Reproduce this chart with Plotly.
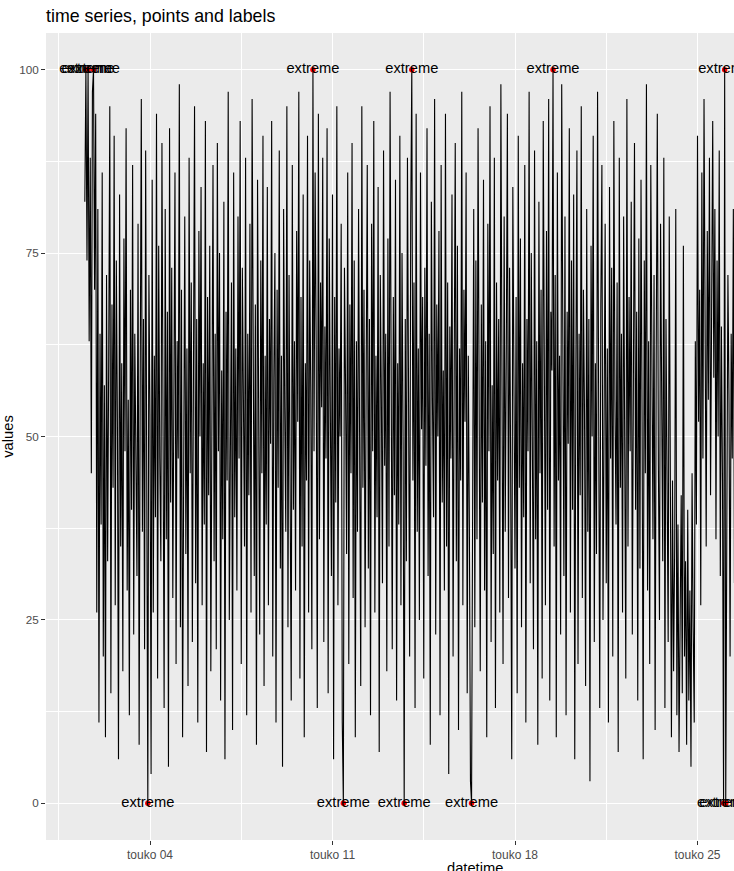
import pandas as pd
import plotly.graph_objects as go

# ---- data (hourly values) ----
start_time = "2019-05-01 12:00"
values = [
    82,100,74,100,63,88,45,97,100,70,94,26,81,11,64,38,86,20,57,9,72,33,61,95,
    15,68,43,91,27,74,52,6,83,35,60,18,77,48,92,29,55,12,70,40,87,23,64,49,
    31,79,8,58,96,37,66,21,89,44,0,72,53,4,85,26,61,39,94,17,76,47,33,90,
    58,13,81,36,67,5,92,41,73,28,56,86,19,63,47,98,24,70,9,52,80,34,62,16,
    88,45,71,22,57,95,30,66,11,78,50,84,27,60,38,93,7,69,42,76,18,55,87,33,
    64,21,90,48,75,14,59,36,82,6,67,44,97,25,53,71,10,86,39,62,29,80,47,93,
    19,73,55,35,88,12,64,42,79,26,96,50,31,68,8,85,57,23,74,45,91,16,61,38,
    84,27,66,49,93,20,58,75,11,70,43,89,32,61,5,81,54,37,95,24,72,46,14,87,
    40,63,29,78,52,97,17,69,35,83,9,60,44,91,26,74,56,21,100,48,86,62,13,94,
    36,71,54,88,22,65,47,92,15,77,58,31,83,6,69,41,95,27,62,50,79,11,0,73,
    57,34,86,19,68,45,90,28,74,9,63,37,81,52,16,95,43,70,24,58,87,32,66,12,
    79,48,93,26,61,39,84,7,72,55,30,89,46,64,18,77,35,97,53,21,69,42,85,14,
    60,38,91,27,75,49,0,66,33,88,56,20,80,100,44,71,13,94,37,62,25,86,51,69,
    17,73,46,92,31,64,8,82,55,39,96,23,68,50,78,12,87,41,59,29,94,35,71,4,
    65,47,83,20,58,90,33,76,10,62,44,97,27,70,52,86,15,61,38,3,0,57,81,24,
    74,36,92,55,18,68,41,85,29,63,9,79,48,95,22,57,34,88,13,71,44,66,26,98,
    51,19,80,37,62,94,28,73,46,6,84,58,32,69,15,91,43,77,24,60,39,87,11,66,
    48,97,30,75,54,21,89,36,63,8,82,45,70,17,93,52,27,78,40,96,14,67,59,100,
    35,72,9,86,44,61,23,98,57,31,80,12,67,49,92,26,74,40,83,6,58,89,19,64,
    42,95,28,70,53,16,81,37,66,3,76,50,91,22,60,34,97,45,13,68,87,25,56,79,
    30,62,11,84,47,73,20,93,55,38,71,7,88,43,64,26,80,51,17,96,35,69,48,82,
    23,58,90,40,67,14,77,32,85,52,6,74,45,98,29,63,19,87,54,36,72,10,61,94,
    46,25,79,57,33,88,13,66,41,22,80,30,9,44,18,35,81,12,38,7,26,42,15,76,
    20,33,8,40,14,29,5,45,24,11,63,38,91,52,70,27,86,47,96,60,35,78,55,88,
    42,67,93,58,81,36,74,50,89,31,65,44,0,100,0,38,72,55,20,64,47,81,30,
]
extreme_values = [0, 100]
label_text = "extreme"

tick_dates = ["2019-05-04", "2019-05-11", "2019-05-18", "2019-05-25"]
tick_labels = ["touko 04", "touko 11", "touko 18", "touko 25"]
minor_dates = ["2019-04-30 12:00", "2019-05-07 12:00", "2019-05-14 12:00",
               "2019-05-21 12:00", "2019-05-28 12:00"]
x_range = ["2019-04-30 00:16", "2019-05-26 09:36"]
y_ticks = [0, 25, 50, 75, 100]

df = pd.DataFrame({
    "datetime": pd.date_range(start_time, periods=len(values), freq="h"),
    "values": values,
})
ext = df[df["values"].isin(extreme_values)]

FONT = "Liberation Sans, Arial, sans-serif"

fig = go.Figure()
fig.add_trace(go.Scatter(
    x=df["datetime"], y=df["values"], mode="lines",
    line=dict(color="black", width=1.1), showlegend=False, hoverinfo="skip",
))
fig.add_trace(go.Scatter(
    x=ext["datetime"], y=ext["values"], mode="markers",
    marker=dict(color="red", size=5.5), showlegend=False,
))
fig.add_trace(go.Scatter(
    x=ext["datetime"], y=ext["values"], mode="text",
    text=[label_text] * len(ext), textposition="middle center",
    textfont=dict(family=FONT, size=14.7, color="black"),
    showlegend=False,
))

# x-axis title: the original panel is wider than the visible window, so its
# centred title sits right of the visible centre and is cut at the bottom edge
fig.add_annotation(
    text="datetime", xref="paper", yref="paper",
    x=(475 - 46) / 688, y=-(868 - 840) / 807,
    xanchor="center", yanchor="middle", showarrow=False,
    font=dict(family=FONT, size=14.7, color="black"),
)

fig.update_layout(
    width=734, height=871,
    margin=dict(l=46, r=0, t=33, b=31, autoexpand=False),
    paper_bgcolor="white", plot_bgcolor="#EBEBEB",
    font=dict(family=FONT, color="black"),
    title=dict(
        text="time series, points and labels",
        font=dict(family=FONT, size=17.8, color="black"),
        xref="paper", x=0, xanchor="left",
        yref="container", y=1 - 16 / 871, yanchor="middle",
    ),
    xaxis=dict(
        type="date", range=x_range,
        tickmode="array", tickvals=tick_dates, ticktext=tick_labels,
        ticks="outside", ticklen=4, tickwidth=1, tickcolor="#333333",
        tickfont=dict(family=FONT, size=12, color="#4D4D4D"),
        showgrid=True, gridcolor="white", gridwidth=1.1,
        minor=dict(tickmode="array", tickvals=minor_dates, showgrid=True,
                   gridcolor="white", gridwidth=0.55, ticks=""),
        zeroline=False, showline=False,
    ),
    yaxis=dict(
        range=[-5, 105],
        tickmode="array", tickvals=y_ticks,
        ticks="outside", ticklen=4, tickwidth=1, tickcolor="#333333",
        tickfont=dict(family=FONT, size=11.7, color="#4D4D4D"),
        showgrid=True, gridcolor="white", gridwidth=1.1,
        minor=dict(dtick=12.5, tick0=0, showgrid=True,
                   gridcolor="white", gridwidth=0.55, ticks=""),
        zeroline=False, showline=False,
        title=dict(text="values", font=dict(family=FONT, size=14.7, color="black"),
                   standoff=6),
    ),
)

fig.write_html("out.html")
